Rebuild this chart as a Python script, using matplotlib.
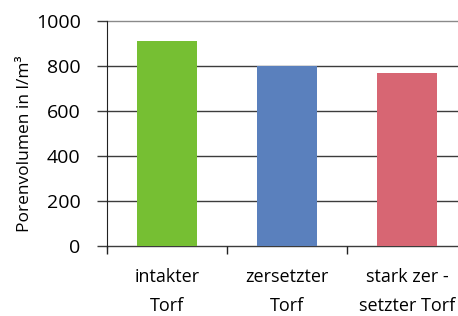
import matplotlib
matplotlib.use("Agg")
import matplotlib.pyplot as plt
import numpy as np

categories = ["intakter\nTorf", "zersetzter\nTorf", "stark zer -\nsetzter Torf"]
values = [911, 800, 769]
colors = ["#76bf33", "#5a80bd", "#d76673"]
yticks = [0, 200, 400, 600, 800, 1000]

plt.rcParams['font.family'] = ['Open Sans', 'DejaVu Sans']

fig = plt.figure(figsize=(4.58, 3.16), dpi=100)
ax = fig.add_axes([107/458, 1-246/316, 360/458, 225/316])

x = np.arange(len(categories))
ax.bar(x, values, width=0.5, color=colors, zorder=3)
ax.set_xlim(-0.5, 2.5)
ax.set_ylim(0, 1000)
ax.set_yticks(yticks)
ax.set_yticklabels([str(v) for v in yticks], fontsize=14)
for v in yticks:
    ax.axhline(v, color="#3c3c3c" if v < 1000 else "#8a8a8a", lw=1.0, zorder=1, clip_on=False)

ax.set_xticks(x)
ax.set_xticklabels(categories, fontsize=13, linespacing=1.75)
ax.set_xticks([-0.5, 0.5, 1.5, 2.5], minor=True)
ax.tick_params(axis='x', which='major', length=0, pad=16)
ax.tick_params(axis='x', which='minor', length=6, width=1, color="#222222", direction='out')
ax.tick_params(axis='y', length=7, width=1, color="#3c3c3c", direction='out', pad=12)

for s in ["top", "right", "bottom"]:
    ax.spines[s].set_visible(False)
ax.spines["left"].set_color("#222222")
ax.spines["left"].set_bounds(-10, 1000)

ax.set_ylabel("Porenvolumen in l/m³", fontsize=12.5)
ax.yaxis.set_label_coords(-0.205, 0.453)

fig.savefig("out.png", dpi=100)
